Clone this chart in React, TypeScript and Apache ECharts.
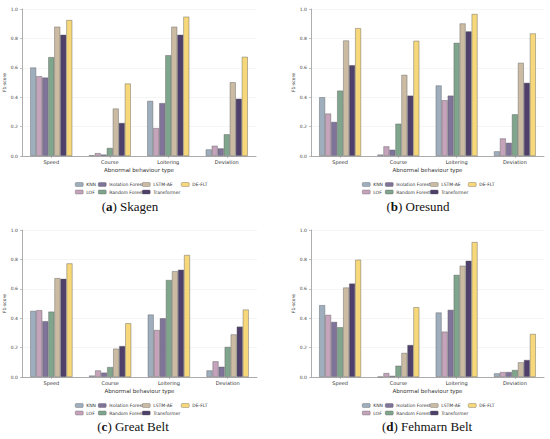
import React, { useEffect, useRef } from "react";
import * as echarts from "echarts";

const categories = ["Speed", "Course", "Loitering", "Deviation"];
const methods = ["KNN", "LOF", "Isolation Forest", "Random Forest", "LSTM-AE", "Transformer", "DE-FLT"];
const methodColors = ["#9eaebd", "#c4a3bb", "#7f7399", "#7fa58c", "#cbbba3", "#4f3f6b", "#f6d77a"];
const yTicks = [0, 0.2, 0.4, 0.6, 0.8, 1.0];

// rows: method, columns: category
const skagenScores = [
  [0.602, 0.005, 0.375, 0.045],
  [0.543, 0.02, 0.19, 0.07],
  [0.534, 0.01, 0.36, 0.052],
  [0.673, 0.055, 0.686, 0.148],
  [0.88, 0.323, 0.88, 0.502],
  [0.825, 0.225, 0.825, 0.39],
  [0.925, 0.493, 0.948, 0.675],
];
const oresundScores = [
  [0.40, 0.01, 0.48, 0.032],
  [0.289, 0.066, 0.38, 0.12],
  [0.232, 0.043, 0.411, 0.09],
  [0.445, 0.22, 0.77, 0.284],
  [0.786, 0.552, 0.902, 0.634],
  [0.618, 0.411, 0.848, 0.498],
  [0.87, 0.784, 0.966, 0.834],
];
const greatBeltScores = [
  [0.45, 0.01, 0.425, 0.045],
  [0.455, 0.045, 0.32, 0.107],
  [0.38, 0.03, 0.40, 0.07],
  [0.445, 0.068, 0.66, 0.205],
  [0.673, 0.193, 0.72, 0.29],
  [0.668, 0.211, 0.73, 0.343],
  [0.773, 0.366, 0.83, 0.459],
];
const fehmarnBeltScores = [
  [0.489, 0.002, 0.439, 0.025],
  [0.423, 0.027, 0.309, 0.034],
  [0.375, 0.008, 0.457, 0.034],
  [0.339, 0.077, 0.695, 0.048],
  [0.609, 0.164, 0.757, 0.10],
  [0.636, 0.218, 0.791, 0.116],
  [0.798, 0.475, 0.918, 0.293],
];

const panelLetters = ["a", "b", "c", "d"];
const panelNames = ["Skagen", "Oresund", "Great Belt", "Fehmarn Belt"];
const panelScores = [skagenScores, oresundScores, greatBeltScores, fehmarnBeltScores];

// layout
const grids = [
  { left: 22, top: 9, width: 234, height: 147 },
  { left: 311, top: 9, width: 233, height: 147 },
  { left: 22, top: 230, width: 235, height: 147 },
  { left: 311, top: 230, width: 233, height: 147 },
];
const legendX = [
  [75, 98, 142, 181],
  [362, 385, 430, 468],
  [75, 98, 142, 181],
  [362, 385, 430, 468],
];
const legendY = [182, 182, 403, 403];
const legendCols = [[0, 1], [2, 3], [4, 5], [6]];
const captionPos = [
  { x: 130, y: 200 },
  { x: 418, y: 200 },
  { x: 133, y: 420 },
  { x: 427, y: 420 },
];

const FONT = "DejaVu Sans";

export default function App() {
  const ref = useRef<HTMLDivElement>(null);
  useEffect(() => {
    if (!ref.current) return;
    const chart = echarts.init(ref.current, undefined, { renderer: "svg" });

    const xAxis = grids.map((_, i) => ({
      type: "category",
      gridIndex: i,
      data: categories,
      name: "Abnormal behaviour type",
      nameLocation: "middle",
      nameGap: 11,
      nameTextStyle: { fontSize: 5.5, color: "#333", fontFamily: FONT },
      axisLine: { show: true, lineStyle: { color: "#999", width: 0.8 } },
      axisTick: { show: true, alignWithLabel: true, length: 2, lineStyle: { color: "#999", width: 0.6 } },
      axisLabel: { fontSize: 5, color: "#333", margin: 3, fontFamily: FONT },
    }));
    const yAxis = grids.map((_, i) => ({
      type: "value",
      gridIndex: i,
      min: 0,
      max: 1,
      interval: 0.2,
      name: "F1-score",
      nameLocation: "middle",
      nameGap: 14,
      nameTextStyle: { fontSize: 4.5, color: "#333", fontFamily: FONT },
      axisLine: { show: true, lineStyle: { color: "#999", width: 0.8 } },
      axisTick: { show: true, length: 2, lineStyle: { color: "#999", width: 0.6 } },
      axisLabel: {
        fontSize: 4.5,
        color: "#444",
        margin: 4,
        fontFamily: FONT,
        formatter: (v: number) => (yTicks.some((t) => Math.abs(t - v) < 1e-9) ? v.toFixed(1) : ""),
      },
      splitLine: { show: true, lineStyle: { color: "#eeeeee", width: 0.6 } },
    }));

    const series: any[] = [];
    panelScores.forEach((scores, p) => {
      scores.forEach((vals, m) => {
        series.push({
          type: "bar",
          name: methods[m],
          xAxisIndex: p,
          yAxisIndex: p,
          data: vals,
          barGap: "0%",
          barCategoryGap: "28%",
          itemStyle: {
            color: methodColors[m],
            borderColor: "rgba(90,90,90,0.7)",
            borderWidth: 0.6,
          },
        });
      });
    });

    const legend: any[] = [];
    panelScores.forEach((_, p) => {
      legendCols.forEach((col, c) => {
        legend.push({
          orient: "vertical",
          left: legendX[p][c],
          top: legendY[p],
          itemWidth: 8,
          itemHeight: 4,
          itemGap: 2.5,
          padding: 0,
          data: col.map((m) => ({ name: methods[m], itemStyle: { borderColor: "rgba(90,90,90,0.7)", borderWidth: 0.5 } })),
          textStyle: { fontSize: 4.5, color: "#333", fontFamily: FONT, padding: [0, 0, 0, -2] },
          selectedMode: false,
        });
      });
    });

    const title = panelNames.map((nm, p) => ({
      text: `({b|${panelLetters[p]}}) ${nm}`,
      left: captionPos[p].x,
      top: captionPos[p].y,
      textAlign: "center",
      padding: 0,
      textStyle: {
        fontSize: 13,
        fontWeight: "normal",
        color: "#111",
        fontFamily: "Liberation Serif",
        rich: {
          b: { fontSize: 13, fontWeight: "bold", color: "#111", fontFamily: "Liberation Serif" },
        },
      },
    }));

    chart.setOption({
      animation: false,
      backgroundColor: "#ffffff",
      title,
      grid: grids,
      xAxis,
      yAxis,
      legend,
      series,
    });
    return () => chart.dispose();
  }, []);
  return (
    <div
      ref={ref}
      style={{ position: "fixed", left: 0, top: 0, width: 550, height: 439, background: "#fff" }}
    />
  );
}
